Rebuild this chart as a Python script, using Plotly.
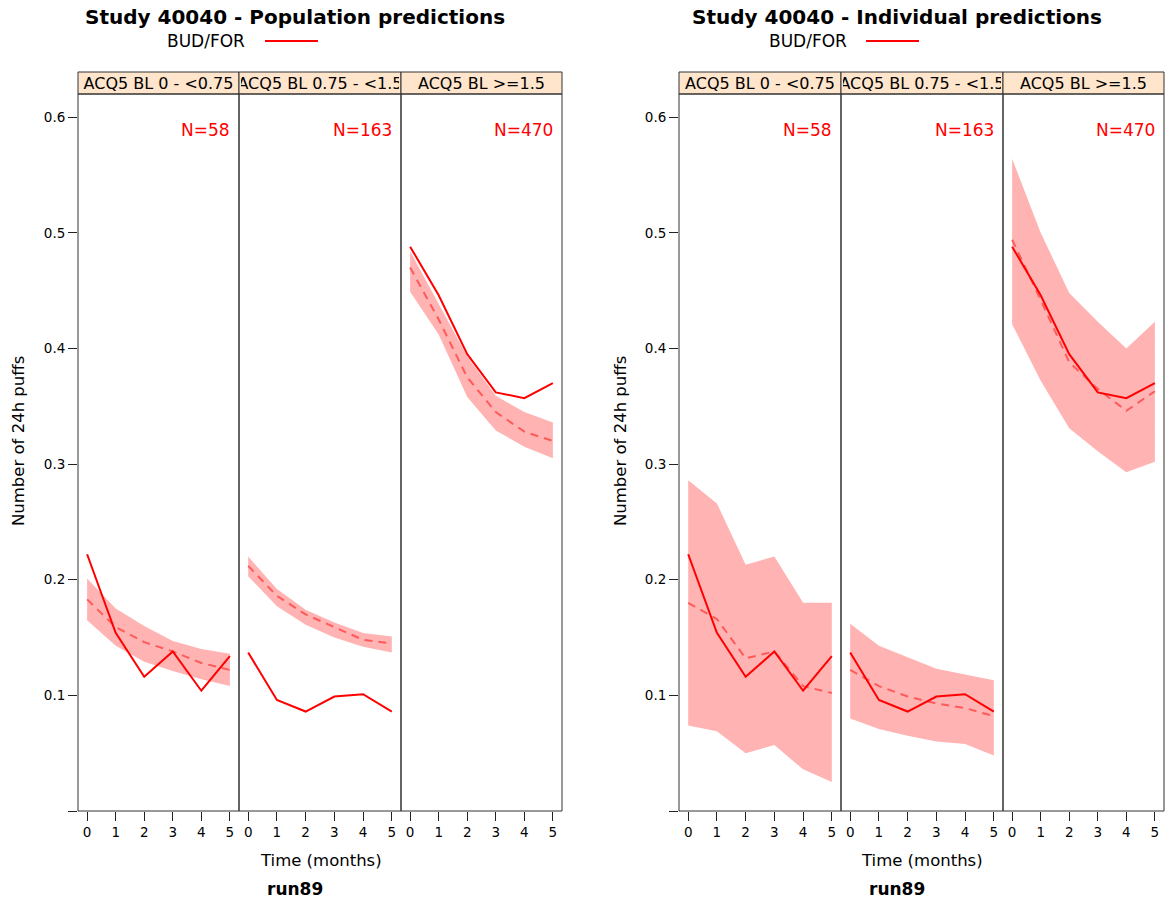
import plotly.graph_objects as go

W, H = 1168, 901

TIME = [0, 1, 2, 3, 4, 5]
STRIPS = ["ACQ5 BL 0 - <0.75", "ACQ5 BL 0.75 - <1.5", "ACQ5 BL >=1.5"]
N_LABELS = ["N=58", "N=163", "N=470"]
TITLES = ["Study 40040 - Population predictions", "Study 40040 - Individual predictions"]
Y_TICKS = [0, 0.1, 0.2, 0.3, 0.4, 0.5, 0.6]
Y_TICKTEXT = ["", "0.1", "0.2", "0.3", "0.4", "0.5", "0.6"]

# Observed (solid) — same in both charts
obs_p1 = [0.222, 0.154, 0.116, 0.138, 0.104, 0.134]
obs_p2 = [0.137, 0.096, 0.086, 0.099, 0.101, 0.086]
obs_p3 = [0.488, 0.446, 0.395, 0.362, 0.357, 0.370]

# Population predictions: median, lower, upper
pop_med_p1 = [0.183, 0.159, 0.146, 0.138, 0.128, 0.122]
pop_lo_p1 = [0.165, 0.143, 0.129, 0.121, 0.114, 0.108]
pop_hi_p1 = [0.201, 0.175, 0.160, 0.147, 0.140, 0.136]
pop_med_p2 = [0.212, 0.186, 0.170, 0.159, 0.148, 0.145]
pop_lo_p2 = [0.203, 0.177, 0.161, 0.150, 0.142, 0.137]
pop_hi_p2 = [0.220, 0.192, 0.174, 0.163, 0.154, 0.151]
pop_med_p3 = [0.470, 0.425, 0.375, 0.345, 0.328, 0.320]
pop_lo_p3 = [0.449, 0.412, 0.358, 0.329, 0.315, 0.305]
pop_hi_p3 = [0.484, 0.438, 0.393, 0.359, 0.345, 0.336]

# Individual predictions: median, lower, upper
ind_med_p1 = [0.180, 0.166, 0.132, 0.138, 0.108, 0.102]
ind_lo_p1 = [0.074, 0.069, 0.050, 0.057, 0.036, 0.025]
ind_hi_p1 = [0.286, 0.266, 0.213, 0.220, 0.180, 0.180]
ind_med_p2 = [0.122, 0.108, 0.099, 0.093, 0.089, 0.082]
ind_lo_p2 = [0.080, 0.071, 0.065, 0.060, 0.058, 0.048]
ind_hi_p2 = [0.162, 0.143, 0.133, 0.123, 0.118, 0.113]
ind_med_p3 = [0.494, 0.442, 0.388, 0.365, 0.346, 0.363]
ind_lo_p3 = [0.421, 0.372, 0.331, 0.311, 0.293, 0.302]
ind_hi_p3 = [0.564, 0.500, 0.448, 0.423, 0.400, 0.423]

panels = [
    (obs_p1, pop_med_p1, pop_lo_p1, pop_hi_p1),
    (obs_p2, pop_med_p2, pop_lo_p2, pop_hi_p2),
    (obs_p3, pop_med_p3, pop_lo_p3, pop_hi_p3),
    (obs_p1, ind_med_p1, ind_lo_p1, ind_hi_p1),
    (obs_p2, ind_med_p2, ind_lo_p2, ind_hi_p2),
    (obs_p3, ind_med_p3, ind_lo_p3, ind_hi_p3),
]

PANEL_PX = [(78, 239), (239, 401), (401, 562), (679, 841), (841, 1003), (1003, 1164)]
Y_TOP, Y_BOT = 94, 811
STRIP_TOP = 72
FONT = "DejaVu Sans"

def px(x):
    return x / W

def py(y):
    return 1 - y / H

fig = go.Figure()
layout = dict(
    width=W, height=H, margin=dict(l=0, r=0, t=0, b=0),
    paper_bgcolor="white", plot_bgcolor="white", showlegend=False,
    font=dict(family=FONT, color="black"),
)
shapes = []
annotations = []

for i, (obs, med, lo, hi) in enumerate(panels):
    k = i + 1
    xa = "x" if k == 1 else f"x{k}"
    ya = "y" if k == 1 else f"y{k}"
    fig.add_trace(go.Scatter(
        x=TIME + TIME[::-1], y=hi + lo[::-1], xaxis=xa, yaxis=ya,
        mode="lines", fill="toself", fillcolor="#FFB3B3",
        line=dict(width=0), hoverinfo="skip"))
    fig.add_trace(go.Scatter(
        x=TIME, y=med, xaxis=xa, yaxis=ya, mode="lines",
        line=dict(color="#FF5A5A", width=2, dash="8px,6px")))
    fig.add_trace(go.Scatter(
        x=TIME, y=obs, xaxis=xa, yaxis=ya, mode="lines",
        line=dict(color="#FF0000", width=2)))

    x0, x1 = PANEL_PX[i]
    xkey = "xaxis" if k == 1 else f"xaxis{k}"
    ykey = "yaxis" if k == 1 else f"yaxis{k}"
    layout[xkey] = dict(
        domain=[px(x0), px(x1)], range=[-0.32, 5.32], anchor=ya,
        tickvals=TIME, ticks="outside", ticklen=9, tickcolor="#222",
        tickfont=dict(size=13.5, family=FONT, color="black"),
        showgrid=False, zeroline=False, showline=False, fixedrange=True)
    show_y = i in (0, 3)
    layout[ykey] = dict(
        domain=[py(Y_BOT), py(Y_TOP)], range=[0, 0.62], anchor=xa,
        tickvals=Y_TICKS, ticktext=Y_TICKTEXT,
        ticks="outside" if show_y else "", ticklen=9, tickcolor="#222",
        showticklabels=show_y, tickfont=dict(size=13.5, family=FONT, color="black"),
        showgrid=False, zeroline=False, showline=False, fixedrange=True)

    # panel frame
    shapes.append(dict(type="rect", xref="paper", yref="paper",
                       x0=px(x0), x1=px(x1), y0=py(Y_BOT), y1=py(Y_TOP),
                       line=dict(color="#333", width=1), fillcolor="rgba(0,0,0,0)"))
    # strip
    shapes.append(dict(type="rect", xref="paper", yref="paper",
                       x0=px(x0), x1=px(x1), y0=py(Y_TOP), y1=py(STRIP_TOP),
                       line=dict(color="#333", width=1), fillcolor="#FFE5CC", layer="below"))
    annotations.append(dict(
        xref="paper", yref="paper", x=px((x0 + x1) / 2), y=py((Y_TOP + STRIP_TOP) / 2),
        xanchor="center", yanchor="middle", text=STRIPS[i % 3], showarrow=False,
        width=x1 - x0 - 4, height=20, align="center",
        font=dict(size=16, family=FONT, color="black")))
    # N label
    annotations.append(dict(
        xref="paper", yref="paper", x=px(x1 - 7), y=py(130),
        xanchor="right", yanchor="middle", text=N_LABELS[i % 3], showarrow=False,
        font=dict(size=17, family=FONT, color="#FF0000")))

for c, (tx, ax_x, leg_txt_x, leg_l, leg_r, xlab_x, run_x) in enumerate([
        (295, 18, 206, 265, 318, 321, 295),
        (897, 620, 808, 866, 919, 922, 897)]):
    annotations.append(dict(
        xref="paper", yref="paper", x=px(tx), y=py(17), xanchor="center", yanchor="middle",
        text=TITLES[c], showarrow=False,
        font=dict(size=20, family=FONT, color="black", weight="bold")))
    annotations.append(dict(
        xref="paper", yref="paper", x=px(leg_txt_x), y=py(41), xanchor="center", yanchor="middle",
        text="BUD/FOR", showarrow=False, font=dict(size=17, family=FONT, color="black")))
    shapes.append(dict(type="line", xref="paper", yref="paper",
                       x0=px(leg_l), x1=px(leg_r), y0=py(41), y1=py(41),
                       line=dict(color="#FF0000", width=2)))
    annotations.append(dict(
        xref="paper", yref="paper", x=px(ax_x), y=py(441), xanchor="center", yanchor="middle",
        text="Number of 24h puffs", textangle=-90, showarrow=False,
        font=dict(size=16.5, family=FONT, color="black")))
    annotations.append(dict(
        xref="paper", yref="paper", x=px(xlab_x), y=py(860), xanchor="center", yanchor="middle",
        text="Time (months)", showarrow=False, font=dict(size=16.5, family=FONT, color="black")))
    annotations.append(dict(
        xref="paper", yref="paper", x=px(run_x), y=py(889), xanchor="center", yanchor="middle",
        text="run89", showarrow=False,
        font=dict(size=17, family=FONT, color="black", weight="bold")))

layout["shapes"] = shapes
layout["annotations"] = annotations
fig.update_layout(**layout)
fig.write_html("out.html")
